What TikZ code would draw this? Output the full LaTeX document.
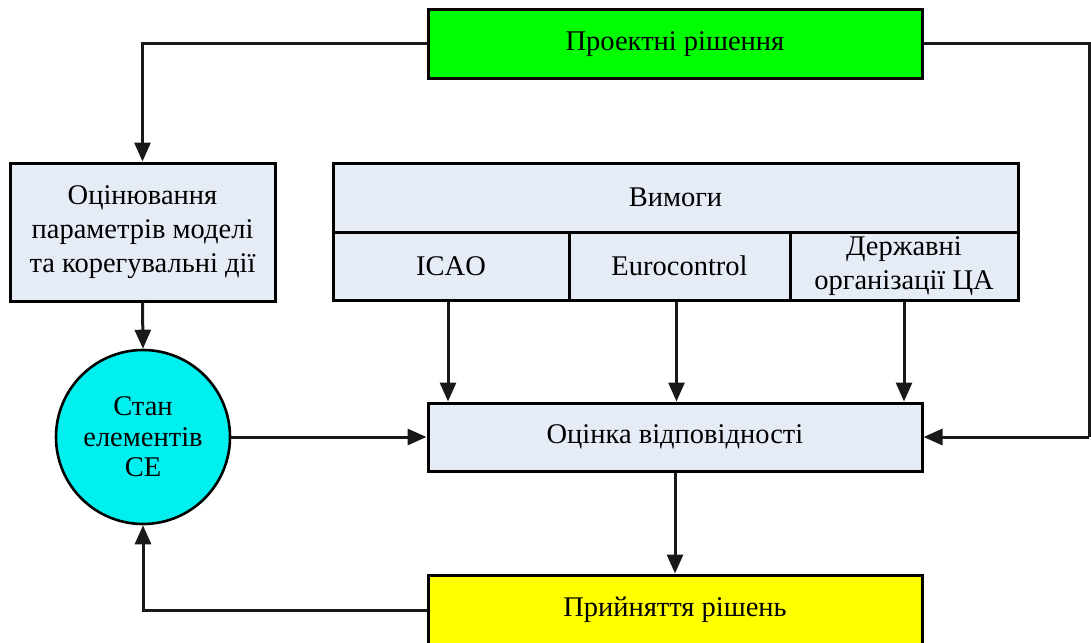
\documentclass[tikz,border=0pt]{standalone}
\usepackage{fontspec}
\setmainfont{Liberation Serif}
\usetikzlibrary{arrows.meta}
\begin{document}
\begin{tikzpicture}[x=1pt,y=-1pt,
  every node/.style={font=\fontsize{28.5}{34}\selectfont, align=center, inner sep=0pt},
  blk/.style={draw=black, line width=3pt, fill=#1, minimum width=494pt, minimum height=68pt},
  cell/.style={draw=black, line width=3pt, fill=paleblue},
  conn/.style={line width=3pt, draw=black!90},
  arr/.style={conn, -{Triangle[length=19pt,width=16pt]}}]
\definecolor{paleblue}{RGB}{230,236,246}
\definecolor{cyanfill}{RGB}{0,240,240}
\definecolor{greenfill}{RGB}{0,255,0}
\definecolor{yellowfill}{RGB}{255,255,0}
\useasboundingbox (0,0) rectangle (1091,642);

% main boxes
\node[blk=greenfill] (proekt) at (675,44) {Проектні рішення};
\node[blk=paleblue] (otsinka) at (675,437) {Оцінка відповідності};
\node[blk=yellowfill, minimum height=70pt] (pryin) at (675,610) {Прийняття рішень};

% left column
\node[cell, minimum width=265pt, minimum height=138pt] (param) at (142.5,232)
  {Оцінювання\\параметрів моделі\\та корегувальні дії};
\node[draw=black, line width=2.6pt, fill=cyanfill, circle, minimum size=174pt,
  font=\fontsize{28.5}{30.5}\selectfont] (stan) at (143,437)
  {Стан\\елементів\\СЕ};

% requirements table
\node[cell, minimum width=685pt, minimum height=69pt] (vymogy) at (675.5,197.5) {Вимоги};
\node[cell, minimum width=236pt, minimum height=68pt] (icao) at (451,266) {ICAO};
\node[cell, minimum width=221pt, minimum height=68pt] (euro) at (679.5,266) {Eurocontrol};
\node[cell, minimum width=228pt, minimum height=68pt] (derzh) at (904,266)
  {Державні\\організації ЦА};

% connectors
\coordinate (rtop) at (1089,44);
\coordinate (rmid) at (1089,437);
\draw[arr] (proekt.west) -| (param.north);
\draw[conn] (proekt.east) -- (rtop) -- (rmid);
\draw[arr] (rmid) -- (otsinka.east);
\draw[arr] (param.south) -- (stan.north);
\draw[arr] (stan.east) -- (otsinka.west);
\draw[arr] ([xshift=-3pt]icao.south) -- ([xshift=-3pt]icao.south |- otsinka.north);
\draw[arr] ([xshift=-3pt]euro.south) -- ([xshift=-3pt]euro.south |- otsinka.north);
\draw[arr] (derzh.south) -- (derzh.south |- otsinka.north);
\draw[arr] (otsinka.south) -- (pryin.north);
\draw[arr] (pryin.west) -| (stan.south);
\end{tikzpicture}
\end{document}
